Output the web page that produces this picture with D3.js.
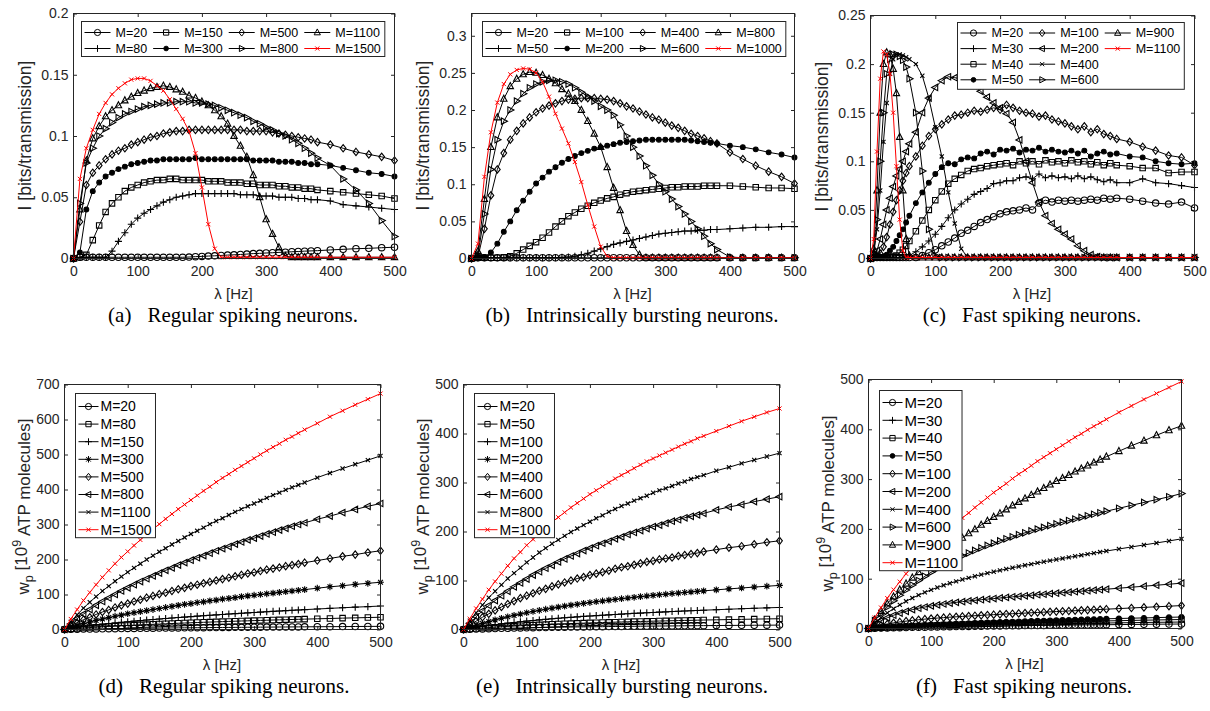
<!DOCTYPE html>
<html>
<head>
<meta charset="utf-8">
<script src="https://cdn.jsdelivr.net/npm/d3@7/dist/d3.min.js"></script>
<style>
body { margin: 0; background: #fff; }
svg text { font-family: "Liberation Sans", Arial, Helvetica, sans-serif; }
.caption { font-family: "Liberation Serif", "Times New Roman", serif; fill: #000; }
</style>
</head>
<body>
<svg id="fig" width="1210" height="711"></svg>
<script>
// ---- x grids (Hz) ----
var lambdaHz = [0,10,20,30,40,50,60,70,80,90,100,110,120,130,140,150,160,170,180,190,200,210,220,230,240,250,260,270,280,290,300,310,320,330,340,350,360,370,380,400,420,440,460,480,500];
var lambdaFast = [0,5,10,15,20,25,30,35,40,45,50,55,60,70,80,90,100,110,120,130,140,150,160,170,180,190,200,210,220,230,240,250,260,270,280,290,300,310,320,330,340,350,360,370,380,400,420,440,460,480,500];
var xTicks = [0, 100, 200, 300, 400, 500];

// ---- (a) regular spiking, information ----
var mA = [20, 80, 150, 300, 500, 800, 1100, 1500];
var markerA = ["o", "+", "s", ".", "d", ">", "^", "x"];
var yTicksA = [0, 0.05, 0.1, 0.15, 0.2];
var valuesA = [
  [0,0.001,0.001,0.001,0.001,0.001,0.001,0.001,0.001,0.001, 0.001,0.001,0.001,0.001,0.001,0.001,0.001,0.001,0.0012,0.0015, 0.0017,0.002,0.0022,0.0025,0.0028,0.003,0.0033,0.0036,0.004,0.0042, 0.0045,0.0047,0.005,0.0052,0.0055,0.0057,0.006,0.0062,0.0064, 0.007,0.0075,0.008,0.0083,0.0088,0.0092],
  [0,0.001,0.001,0.001,0.001,0.001,0.006,0.014,0.021,0.028, 0.033,0.037,0.04,0.043,0.046,0.048,0.05,0.051,0.052,0.053, 0.053,0.053,0.053,0.053,0.053,0.053,0.052,0.052,0.052,0.051, 0.051,0.051,0.05,0.05,0.05,0.049,0.049,0.048,0.048, 0.047,0.044,0.043,0.042,0.041,0.04],
  [0,0.001,0.003,0.015,0.027,0.038,0.045,0.05,0.055,0.058, 0.06,0.062,0.063,0.064,0.064,0.065,0.065,0.064,0.064,0.064, 0.064,0.063,0.063,0.063,0.062,0.062,0.062,0.061,0.061,0.06, 0.06,0.06,0.059,0.059,0.058,0.058,0.057,0.057,0.056, 0.055,0.054,0.053,0.052,0.051,0.049],
  [0,0.005,0.04,0.055,0.062,0.067,0.07,0.073,0.075,0.077, 0.078,0.079,0.08,0.08,0.081,0.081,0.081,0.081,0.081,0.082, 0.081,0.081,0.081,0.081,0.081,0.081,0.081,0.081,0.08,0.08, 0.08,0.08,0.079,0.079,0.079,0.078,0.078,0.077,0.077, 0.076,0.074,0.072,0.07,0.069,0.067],
  [0,0.03,0.06,0.07,0.076,0.081,0.085,0.088,0.09,0.093, 0.095,0.097,0.099,0.1,0.102,0.103,0.104,0.104,0.105,0.105, 0.105,0.105,0.105,0.105,0.105,0.105,0.105,0.104,0.104,0.104, 0.104,0.103,0.102,0.101,0.1,0.099,0.098,0.097,0.095, 0.093,0.09,0.087,0.085,0.083,0.08],
  [0,0.045,0.078,0.09,0.1,0.106,0.111,0.115,0.118,0.12, 0.122,0.124,0.125,0.126,0.127,0.127,0.128,0.128,0.128,0.127, 0.127,0.126,0.125,0.123,0.121,0.119,0.117,0.115,0.112,0.11, 0.107,0.105,0.102,0.1,0.097,0.094,0.09,0.086,0.082, 0.076,0.065,0.056,0.045,0.031,0.018],
  [0,0.04,0.08,0.098,0.108,0.116,0.121,0.125,0.129,0.132, 0.135,0.137,0.139,0.14,0.141,0.14,0.138,0.136,0.133,0.131, 0.128,0.125,0.121,0.116,0.11,0.1,0.092,0.083,0.068,0.05, 0.032,0.02,0.009,0.002,0.001,0.001,0.001,0.001,0.001, 0.001,0.001,0.001,0.001,0.001,0.001],
  [0,0.065,0.09,0.105,0.118,0.127,0.134,0.139,0.143,0.146, 0.147,0.147,0.145,0.141,0.137,0.13,0.122,0.114,0.104,0.086, 0.058,0.028,0.008,0.001,0.001,0.001,0.001,0.001,0.001,0.001, 0.001,0.001,0.001,0.001,0.001,0.001,0.001,0.001,0.001, 0.001,0.001,0.001,0.001,0.001,0.001]
];

// ---- (b) intrinsically bursting, information ----
var mB = [20, 50, 100, 200, 400, 600, 800, 1000];
var markerB = ["o", "+", "s", ".", "d", ">", "^", "x"];
var yTicksB = [0, 0.05, 0.1, 0.15, 0.2, 0.25, 0.3];
var valuesB = [
  [0,0.001,0.001,0.001,0.001,0.001,0.001,0.001,0.001,0.001, 0.001,0.001,0.001,0.001,0.001,0.001,0.001,0.001,0.001,0.001, 0.001,0.001,0.001,0.001,0.001,0.001,0.001,0.001,0.001,0.001, 0.001,0.001,0.001,0.001,0.001,0.001,0.001,0.001,0.001, 0.001,0.001,0.001,0.001,0.001,0.001],
  [0,0.001,0.001,0.001,0.001,0.001,0.001,0.001,0.001,0.001, 0.001,0.001,0.001,0.0012,0.0015,0.002,0.003,0.005,0.007,0.01, 0.013,0.016,0.019,0.021,0.023,0.025,0.027,0.029,0.031,0.033, 0.034,0.035,0.036,0.037,0.037,0.038,0.038,0.039,0.039, 0.04,0.041,0.042,0.042,0.043,0.043],
  [0,0.001,0.001,0.001,0.001,0.0015,0.003,0.007,0.012,0.017, 0.022,0.028,0.035,0.043,0.05,0.057,0.062,0.067,0.071,0.075, 0.078,0.081,0.083,0.086,0.088,0.09,0.091,0.092,0.093,0.094, 0.095,0.096,0.096,0.097,0.097,0.097,0.098,0.098,0.098, 0.098,0.097,0.096,0.095,0.095,0.094],
  [0,0.001,0.002,0.008,0.02,0.036,0.05,0.065,0.078,0.09, 0.101,0.109,0.117,0.123,0.129,0.134,0.138,0.142,0.145,0.148, 0.15,0.152,0.154,0.156,0.157,0.158,0.159,0.16,0.16,0.16, 0.16,0.16,0.16,0.16,0.159,0.158,0.157,0.156,0.155, 0.152,0.15,0.147,0.143,0.14,0.136],
  [0,0.002,0.04,0.085,0.12,0.142,0.16,0.172,0.182,0.19, 0.197,0.202,0.206,0.209,0.212,0.214,0.215,0.216,0.216,0.216, 0.215,0.214,0.212,0.209,0.205,0.202,0.198,0.194,0.19,0.187, 0.183,0.179,0.176,0.172,0.168,0.165,0.162,0.158,0.155, 0.143,0.134,0.125,0.117,0.11,0.101],
  [0,0.005,0.06,0.12,0.16,0.185,0.2,0.212,0.222,0.23, 0.235,0.238,0.24,0.24,0.238,0.235,0.23,0.224,0.218,0.212, 0.205,0.2,0.193,0.18,0.165,0.15,0.138,0.125,0.112,0.1, 0.09,0.08,0.07,0.06,0.05,0.04,0.03,0.02,0.012, 0.002,0.001,0.001,0.001,0.001,0.001],
  [0,0.01,0.08,0.15,0.19,0.215,0.232,0.242,0.248,0.251, 0.25,0.247,0.242,0.236,0.228,0.222,0.212,0.2,0.185,0.168, 0.15,0.123,0.095,0.065,0.037,0.018,0.005,0.001,0.001,0.001, 0.001,0.001,0.001,0.001,0.001,0.001,0.001,0.001,0.001, 0.001,0.001,0.001,0.001,0.001,0.001],
  [0,0.02,0.11,0.17,0.21,0.235,0.248,0.254,0.256,0.255, 0.25,0.238,0.218,0.195,0.175,0.155,0.13,0.103,0.072,0.043, 0.016,0.003,0.001,0.001,0.001,0.001,0.001,0.001,0.001,0.001, 0.001,0.001,0.001,0.001,0.001,0.001,0.001,0.001,0.001, 0.001,0.001,0.001,0.001,0.001,0.001]
];

// ---- (c) fast spiking, information (finer grid below 60 Hz) ----
var mC = [20, 30, 40, 50, 100, 200, 400, 600, 900, 1100];
var markerC = ["o", "+", "s", ".", "d", "<", "x", ">", "^", "x"];
var yTicksC = [0, 0.05, 0.1, 0.15, 0.2, 0.25];
var valuesC = [
  [0,0.001,0.001,0.001,0.001,0.001,0.001,0.001,0.001,0.001,0.001,0.001,0.001, 0.001,0.003,0.006,0.009,0.013,0.017,0.021,0.026,0.029,0.033, 0.037,0.04,0.043,0.046,0.048,0.049,0.05,0.052,0.05,0.057, 0.06,0.058,0.06,0.059,0.06,0.059,0.06,0.061,0.06,0.062,0.061,0.062, 0.061,0.059,0.057,0.056,0.058,0.052],
  [0,0.001,0.001,0.001,0.001,0.001,0.001,0.001,0.001,0.001,0.0015,0.002,0.003, 0.007,0.012,0.018,0.025,0.033,0.042,0.05,0.056,0.061,0.066, 0.069,0.072,0.077,0.078,0.08,0.08,0.083,0.084,0.082,0.087, 0.083,0.085,0.083,0.084,0.082,0.085,0.082,0.084,0.081,0.079,0.081,0.078, 0.078,0.082,0.078,0.077,0.075,0.073],
  [0,0.001,0.001,0.001,0.001,0.001,0.0015,0.002,0.003,0.006,0.009,0.013,0.018, 0.028,0.039,0.05,0.06,0.069,0.077,0.082,0.086,0.09,0.092, 0.093,0.095,0.096,0.097,0.098,0.096,0.1,0.098,0.1,0.097, 0.101,0.099,0.1,0.098,0.101,0.099,0.1,0.097,0.099,0.096,0.098,0.096, 0.095,0.093,0.093,0.088,0.089,0.089],
  [0,0.001,0.001,0.001,0.002,0.004,0.008,0.012,0.018,0.024,0.03,0.037,0.044, 0.057,0.068,0.078,0.087,0.094,0.098,0.097,0.102,0.104,0.103, 0.108,0.11,0.107,0.112,0.111,0.113,0.109,0.112,0.111,0.114, 0.11,0.112,0.11,0.109,0.111,0.108,0.111,0.105,0.108,0.11,0.107,0.108, 0.105,0.104,0.1,0.098,0.097,0.098],
  [0,0.001,0.002,0.005,0.012,0.022,0.035,0.048,0.06,0.07,0.08,0.088,0.095, 0.105,0.116,0.126,0.133,0.138,0.143,0.147,0.148,0.15,0.152, 0.151,0.153,0.155,0.153,0.158,0.155,0.152,0.15,0.149,0.146, 0.147,0.143,0.141,0.139,0.136,0.133,0.136,0.13,0.133,0.128,0.126,0.123, 0.12,0.115,0.111,0.106,0.104,0.096],
  [0,0.002,0.008,0.02,0.035,0.05,0.062,0.074,0.085,0.092,0.1,0.11,0.118, 0.13,0.15,0.165,0.176,0.183,0.187,0.186,0.185,0.183,0.178, 0.172,0.166,0.16,0.155,0.149,0.14,0.122,0.1,0.078,0.058, 0.044,0.036,0.03,0.025,0.02,0.013,0.008,0.004,0.002,0.001,0.001,0.001, 0.001,0.001,0.001,0.001,0.001,0.001],
  [0,0.005,0.03,0.07,0.12,0.16,0.19,0.205,0.21,0.21,0.209,0.207,0.205, 0.2,0.188,0.165,0.135,0.105,0.068,0.036,0.01,0.001,0.001, 0.001,0.001,0.001,0.001,0.001,0.001,0.001,0.001,0.001,0.001, 0.001,0.001,0.001,0.001,0.001,0.001,0.001,0.001,0.001,0.001,0.001,0.001, 0.001,0.001,0.001,0.001,0.001,0.001],
  [0,0.005,0.04,0.1,0.15,0.19,0.205,0.21,0.21,0.208,0.204,0.197,0.185, 0.15,0.09,0.03,0.003,0.001,0.001,0.001,0.001,0.001,0.001, 0.001,0.001,0.001,0.001,0.001,0.001,0.001,0.001,0.001,0.001, 0.001,0.001,0.001,0.001,0.001,0.001,0.001,0.001,0.001,0.001,0.001,0.001, 0.001,0.001,0.001,0.001,0.001,0.001],
  [0,0.01,0.07,0.15,0.2,0.212,0.21,0.195,0.17,0.125,0.07,0.02,0.003, 0.001,0.001,0.001,0.001,0.001,0.001,0.001,0.001,0.001,0.001, 0.001,0.001,0.001,0.001,0.001,0.001,0.001,0.001,0.001,0.001, 0.001,0.001,0.001,0.001,0.001,0.001,0.001,0.001,0.001,0.001,0.001,0.001, 0.001,0.001,0.001,0.001,0.001,0.001],
  [0,0.02,0.11,0.185,0.213,0.21,0.19,0.15,0.095,0.04,0.008,0.001,0.001, 0.001,0.001,0.001,0.001,0.001,0.001,0.001,0.001,0.001,0.001, 0.001,0.001,0.001,0.001,0.001,0.001,0.001,0.001,0.001,0.001, 0.001,0.001,0.001,0.001,0.001,0.001,0.001,0.001,0.001,0.001,0.001,0.001, 0.001,0.001,0.001,0.001,0.001,0.001]
];

// ---- (d) regular spiking, energy ----
var mD = [20, 80, 150, 300, 500, 800, 1100, 1500];
var markerD = ["o", "s", "+", "*", "d", "<", "x", "x"];
var yTicksD = [0, 100, 200, 300, 400, 500, 600, 700];
var valuesD = [
  [0,0.4,0.8,1.1,1.4,1.7,2.0,2.3,2.5,2.7, 3.0,3.2,3.4,3.6,3.8,4.0,4.2,4.4,4.6,4.8, 4.9,5.1,5.3,5.5,5.6,5.8,5.9,6.1,6.2,6.4, 6.5,6.7,6.8,7.0,7.1,7.2,7.4,7.5,7.6, 7.9,8.1,8.3,8.6,8.8,9],
  [0,1.6,3.0,4.3,5.5,6.7,7.7,8.8,9.7,10.7, 11.6,12.4,13.3,14.1,14.9,15.6,16.4,17.1,17.8,18.5, 19.2,19.9,20.6,21.2,21.8,22.5,23.1,23.7,24.3,24.8, 25.4,26.0,26.5,27.1,27.6,28.1,28.6,29.1,29.6, 30.6,31.5,32.5,33.3,34.2,35],
  [0,3.0,5.7,8.2,10.6,12.8,14.8,16.8,18.7,20.4, 22.2,23.8,25.4,27.0,28.5,30.0,31.4,32.8,34.2,35.5, 36.8,38.1,39.4,40.6,41.8,43.0,44.2,45.3,46.4,47.6, 48.6,49.7,50.8,51.8,52.8,53.8,54.8,55.8,56.7, 58.6,60.4,62.1,63.8,65.4,67],
  [0,6,12,17,21,26,30,34,38,41, 45,48,51,54,57,60,63,66,69,72, 74,77,79,82,84,87,89,91,94,96, 98,100,102,104,106,108,110,112,114, 118,122,125,129,132,135],
  [0,10,19,28,35,43,50,56,63,69, 74,80,85,91,96,101,105,110,115,119, 124,128,132,136,140,144,148,152,156,160, 163,167,171,174,177,181,184,187,191, 197,203,209,214,220,225],
  [0,16,31,44,57,69,80,90,100,110, 119,128,137,145,153,161,169,176,184,191, 198,205,211,218,225,231,237,244,250,256, 261,267,273,278,284,289,295,300,305, 315,324,334,343,352,360],
  [0,22,42,61,78,94,110,124,138,151, 164,176,188,200,211,222,232,243,253,263, 273,282,291,301,310,318,327,336,344,352, 360,368,376,384,391,399,406,413,420, 434,447,460,472,484,496],
  [0,30,57,83,106,128,149,169,188,206, 223,240,256,271,287,301,316,330,344,357, 370,383,396,408,421,433,444,456,467,478, 489,500,511,521,531,542,551,561,571, 589,608,625,642,658,674]
];

// ---- (e) intrinsically bursting, energy ----
var mE = [20, 50, 100, 200, 400, 600, 800, 1000];
var markerE = ["o", "s", "+", "*", "d", "<", "x", "x"];
var yTicksE = [0, 100, 200, 300, 400, 500];
var valuesE = [
  [0,0.4,0.9,1.2,1.6,2.0,2.3,2.6,2.9,3.2, 3.4,3.7,3.9,4.1,4.4,4.6,4.8,5.0,5.2,5.3, 5.5,5.7,5.8,6.0,6.1,6.3,6.4,6.6,6.7,6.8, 7.0,7.1,7.2,7.3,7.4,7.6,7.7,7.8,7.9, 8.1,8.3,8.5,8.7,8.8,9],
  [0,1.1,2.1,3.0,3.9,4.8,5.6,6.3,7.0,7.7, 8.4,9.0,9.6,10.1,10.7,11.2,11.7,12.1,12.6,13.0, 13.5,13.9,14.3,14.6,15.0,15.4,15.7,16.1,16.4,16.7, 17.0,17.3,17.6,17.9,18.2,18.5,18.7,19.0,19.3, 19.8,20.3,20.7,21.2,21.6,22],
  [0,2.2,4.3,6.2,8.1,9.8,11.4,13.0,14.4,15.8, 17.1,18.4,19.6,20.7,21.8,22.9,23.9,24.8,25.8,26.7, 27.5,28.4,29.2,29.9,30.7,31.4,32.2,32.9,33.5,34.2, 34.8,35.4,36.0,36.6,37.2,37.8,38.3,38.9,39.4, 40.4,41.4,42.4,43.3,44.2,45],
  [0,4.4,8.6,12.5,16.1,19.6,22.8,25.9,28.8,31.6, 34.2,36.8,39.2,41.4,43.6,45.7,47.7,49.7,51.5,53.3, 55.0,56.7,58.3,59.9,61.4,62.9,64.3,65.7,67.1,68.4, 69.6,70.9,72.1,73.3,74.4,75.6,76.7,77.8,78.8, 80.9,82.9,84.7,86.6,88.3,90],
  [0,9,17,25,32,39,46,52,58,64, 69,74,79,83,88,92,96,100,104,107, 111,114,117,120,124,127,129,132,135,138, 140,143,145,147,150,152,154,156,159, 163,167,170,174,178,181],
  [0,13,26,38,49,59,69,78,87,95, 103,111,118,125,131,138,144,150,155,161, 166,171,176,180,185,189,194,198,202,206, 210,213,217,221,224,228,231,234,237, 244,250,255,261,266,271],
  [0,18,34,50,65,78,91,104,115,126, 137,147,157,166,175,183,191,199,206,213, 220,227,233,240,246,252,257,263,268,273, 279,284,288,293,298,302,307,311,315, 324,331,339,346,353,360],
  [0,22,43,62,81,98,114,130,145,158, 172,184,196,208,219,229,239,249,258,267, 276,284,292,300,308,315,322,329,336,343, 349,355,361,367,373,379,384,390,395, 405,415,425,434,443,451]
];

// ---- (f) fast spiking, energy ----
var mF = [20, 30, 40, 50, 100, 200, 400, 600, 900, 1100];
var markerF = ["o", "+", "s", ".", "d", "<", "x", ">", "^", "x"];
var yTicksF = [0, 100, 200, 300, 400, 500];
var valuesF = [
  [0,0.4,0.8,1.1,1.4,1.7,2.0,2.3,2.5,2.7, 3.0,3.2,3.4,3.6,3.8,4.0,4.2,4.4,4.6,4.8, 4.9,5.1,5.3,5.5,5.6,5.8,5.9,6.1,6.2,6.4, 6.5,6.7,6.8,7.0,7.1,7.2,7.4,7.5,7.6, 7.9,8.1,8.3,8.6,8.8,9],
  [0,0.6,1.1,1.6,2.1,2.5,2.9,3.3,3.6,4.0, 4.3,4.6,4.9,5.2,5.5,5.8,6.1,6.4,6.6,6.9, 7.1,7.4,7.6,7.9,8.1,8.3,8.6,8.8,9.0,9.2, 9.4,9.6,9.9,10.1,10.3,10.4,10.6,10.8,11.0, 11.4,11.7,12.1,12.4,12.7,13],
  [0,0.8,1.5,2.2,2.8,3.4,4.0,4.5,5.0,5.5, 6.0,6.4,6.8,7.2,7.7,8.0,8.4,8.8,9.2,9.5, 9.9,10.2,10.6,10.9,11.2,11.6,11.9,12.2,12.5,12.8, 13.1,13.4,13.6,13.9,14.2,14.5,14.7,15.0,15.2, 15.7,16.2,16.7,17.1,17.6,18],
  [0,1.0,2.0,2.8,3.6,4.4,5.1,5.8,6.4,7.0, 7.6,8.2,8.7,9.3,9.8,10.3,10.8,11.3,11.7,12.2, 12.6,13.1,13.5,13.9,14.4,14.8,15.2,15.6,15.9,16.3, 16.7,17.1,17.4,17.8,18.1,18.5,18.8,19.1,19.5, 20.1,20.7,21.3,21.9,22.5,23],
  [0,3.5,6.5,9.1,11.3,13.2,14.8,16.3,17.6,18.8, 19.9,20.9,21.8,22.7,23.5,24.3,25.0,25.7,26.4,27.1, 27.8,28.4,29.1,29.7,30.3,30.9,31.6,32.2,32.8,33.4, 34.0,34.6,35.2,35.8,36.4,37.0,37.6,38.2,38.8, 40.0,41.2,42.4,43.6,44.8,46],
  [0,8.4,15.5,21.5,26.6,30.9,34.6,37.9,40.7,43.2, 45.4,47.4,49.2,50.9,52.5,53.9,55.3,56.6,57.8,59.0, 60.2,61.3,62.5,63.6,64.6,65.7,66.7,67.8,68.8,69.9, 70.9,71.9,72.9,73.9,74.9,75.9,76.9,77.9,78.9, 80.9,82.9,84.9,86.9,88.9,91],
  [0,11.5,21.9,31.3,39.8,47.5,54.6,61.1,67.0,72.5, 77.6,82.3,86.7,90.8,94.6,98.3,101.7,105.0,108.1,111.1, 114.0,116.7,119.4,122.0,124.5,126.9,129.3,131.7,134.0,136.3, 138.5,140.7,142.9,145.0,147.2,149.3,151.4,153.5,155.5, 159.7,163.7,167.8,171.8,175.8,180],
  [0,15.6,30.0,43.3,55.5,66.9,77.4,87.2,96.3,104.8, 112.8,120.2,127.2,133.8,140.0,145.9,151.5,156.8,161.9,166.7, 171.4,175.8,180.1,184.2,188.3,192.1,195.9,199.6,203.1,206.6, 210.1,213.4,216.7,219.9,223.1,226.3,229.4,232.4,235.5, 241.4,247.3,253.1,258.8,264.5,271],
  [0,18,35,50,64,78,90,102,113,124, 135,145,154,164,173,182,191,199,208,216, 224,231,239,247,254,261,268,275,282,289, 296,302,308,315,321,327,333,339,345, 356,367,377,388,398,407],
  [0,22,42,61,78,94,110,124,138,151, 164,176,188,200,211,222,232,243,253,263, 273,282,291,301,310,318,327,336,344,352, 360,368,376,384,391,399,406,413,420, 434,447,460,472,484,496]
];

var captionLabels = ["(a)", "(b)", "(c)", "(d)", "(e)", "(f)"];
var captionTexts = ["Regular spiking neurons.", "Intrinsically bursting neurons.", "Fast spiking neurons.",
                    "Regular spiking neurons.", "Intrinsically bursting neurons.", "Fast spiking neurons."];

// ---- layout ----
var AXIS = "#262626";
var panels = [
  {lam: lambdaHz,   m: mA, mk: markerA, v: valuesA, yMax: 0.2,  yTicks: yTicksA, x0: 73,  x1: 394,  y0: 13,  y1: 258, top: true,
   leg: {rows: 2, anchor: "tr", dx: 10, dy: 8, first: 11, rowH: 16, last: 8, line: 26, font: 12.5}, capX: 233, capY: 322},
  {lam: lambdaHz,   m: mB, mk: markerB, v: valuesB, yMax: 0.33, yTicks: yTicksB, x0: 471, x1: 794,  y0: 13,  y1: 258, top: true,
   leg: {rows: 2, anchor: "tr", dx: 9, dy: 8, first: 11, rowH: 16, last: 8, line: 26, font: 12.5}, capX: 632, capY: 322},
  {lam: lambdaFast, m: mC, mk: markerC, v: valuesC, yMax: 0.25, yTicks: yTicksC, x0: 870, x1: 1194, y0: 15,  y1: 258, top: true,
   leg: {rows: 4, anchor: "tr", dx: 10, dy: 7, first: 10.5, rowH: 15.6, last: 9.5, line: 26, font: 12.5}, capX: 1032, capY: 322},
  {lam: lambdaHz,   m: mD, mk: markerD, v: valuesD, yMax: 700,  yTicks: yTicksD, x0: 64,  x1: 380,  y0: 384, y1: 629, top: false,
   leg: {rows: 8, anchor: "tl", dx: 11, dy: 9, first: 13, rowH: 17.6, last: 8, line: 20, font: 14}, capX: 224, capY: 693},
  {lam: lambdaHz,   m: mE, mk: markerE, v: valuesE, yMax: 500,  yTicks: yTicksE, x0: 463, x1: 779,  y0: 384, y1: 629, top: false,
   leg: {rows: 8, anchor: "tl", dx: 11, dy: 9, first: 13, rowH: 17.6, last: 8, line: 20, font: 14}, capX: 622, capY: 693},
  {lam: lambdaHz,   m: mF, mk: markerF, v: valuesF, yMax: 500,  yTicks: yTicksF, x0: 868, x1: 1181, y0: 379, y1: 628, top: false,
   leg: {rows: 10, anchor: "tl", dx: 11, dy: 11, first: 12, rowH: 17.8, last: 8, line: 20, font: 15}, capX: 1024, capY: 693}
];

var svg = d3.select("#fig");
svg.append("rect").attr("width", 1210).attr("height", 711).attr("fill", "#fff");

function markerPath(t, s) {
  var h = s / 2;
  if (t === "o" || t === ".") {
    var r = t === "." ? h * 0.75 : h;
    return "M" + (-r) + ",0A" + r + "," + r + " 0 1,0 " + r + ",0A" + r + "," + r + " 0 1,0 " + (-r) + ",0Z";
  }
  if (t === "s") { var q = h * 0.85; return "M" + (-q) + "," + (-q) + "H" + q + "V" + q + "H" + (-q) + "Z"; }
  if (t === "d") return "M0," + (-h * 1.15) + "L" + (h * 0.9) + ",0L0," + (h * 1.15) + "L" + (-h * 0.9) + ",0Z";
  if (t === "^") return "M0," + (-h * 1.15) + "L" + h + "," + (h * 0.75) + "L" + (-h) + "," + (h * 0.75) + "Z";
  if (t === ">") return "M" + (h * 1.15) + ",0L" + (-h * 0.75) + "," + (-h) + "L" + (-h * 0.75) + "," + h + "Z";
  if (t === "<") return "M" + (-h * 1.15) + ",0L" + (h * 0.75) + "," + (-h) + "L" + (h * 0.75) + "," + h + "Z";
  if (t === "+") { var p = h * 1.1; return "M" + (-p) + ",0H" + p + "M0," + (-p) + "V" + p; }
  if (t === "x") { var k = h * 0.75; return "M" + (-k) + "," + (-k) + "L" + k + "," + k + "M" + (-k) + "," + k + "L" + k + "," + (-k); }
  if (t === "*") {
    var a = h * 1.05, b = h * 0.75;
    return "M" + (-a) + ",0H" + a + "M0," + (-a) + "V" + a +
      "M" + (-b) + "," + (-b) + "L" + b + "," + b + "M" + (-b) + "," + b + "L" + b + "," + (-b);
  }
  return "";
}

function seriesColor(p, i) {
  return i === p.m.length - 1 ? "#ff0000" : "#000";
}

function drawPanel(p, idx) {
  var g = svg.append("g");
  var x = d3.scaleLinear().domain([0, 500]).range([p.x0 + 0.5, p.x1 + 0.5]);
  var y = d3.scaleLinear().domain([0, p.yMax]).range([p.y1 + 0.5, p.y0 + 0.5]);
  var tickFont = 14;
  var tl = 3.5;

  // axes (ticks inside, mirrored on top/right)
  var ax = g.append("g").style("color", AXIS);
  ax.append("g").attr("transform", "translate(0," + (p.y1 + 0.5) + ")")
    .call(d3.axisBottom(x).tickValues(xTicks).tickSize(-tl).tickSizeOuter(0).tickPadding(8))
    .attr("font-size", tickFont).attr("font-family", null);
  ax.append("g").attr("transform", "translate(0," + (p.y0 + 0.5) + ")")
    .call(d3.axisTop(x).tickValues(xTicks).tickSize(-tl).tickSizeOuter(0).tickFormat(""));
  ax.append("g").attr("transform", "translate(" + (p.x0 + 0.5) + ",0)")
    .call(d3.axisLeft(y).tickValues(p.yTicks).tickSize(-tl).tickSizeOuter(0).tickPadding(5).tickFormat(d3.format("~g")))
    .attr("font-size", tickFont).attr("font-family", null);
  ax.append("g").attr("transform", "translate(" + (p.x1 + 0.5) + ",0)")
    .call(d3.axisRight(y).tickValues(p.yTicks).tickSize(-tl).tickSizeOuter(0).tickFormat(""));
  ax.selectAll(".domain").remove();
  ax.selectAll("text").attr("fill", AXIS);

  // series
  var line = d3.line().x(function(d) { return x(d[0]); }).y(function(d) { return y(d[1]); });
  p.v.forEach(function(vals, i) {
    var pts = vals.map(function(v, j) { return [p.lam[j], v]; });
    var col = seriesColor(p, i);
    var sg = g.append("g");
    sg.append("path").datum(pts).attr("d", line)
      .attr("fill", "none").attr("stroke", col).attr("stroke-width", 1);
    var mp = markerPath(p.mk[i], p.mk[i] === "x" ? 5.5 : 6.4);
    sg.selectAll("path.mk").data(pts).enter().append("path")
      .attr("class", "mk")
      .attr("transform", function(d) { return "translate(" + x(d[0]) + "," + y(d[1]) + ")"; })
      .attr("d", mp)
      .attr("fill", p.mk[i] === "." ? col : "none")
      .attr("stroke", col).attr("stroke-width", col === "#000" ? 1.1 : 1);
  });

  // box
  g.append("rect").attr("x", p.x0 + 0.5).attr("y", p.y0 + 0.5)
    .attr("width", p.x1 - p.x0).attr("height", p.y1 - p.y0)
    .attr("fill", "none").attr("stroke", AXIS).attr("stroke-width", 1);

  // axis labels
  var cx = (p.x0 + p.x1) / 2, cy = (p.y0 + p.y1) / 2;
  g.append("text").attr("x", cx).attr("y", p.y1 + 41)
    .attr("text-anchor", "middle").attr("font-size", 15).attr("fill", AXIS)
    .text("\u03bb [Hz]");
  var yl = g.append("text")
    .attr("transform", "translate(" + (p.x0 - (p.top ? 48 : 41)) + "," + cy + ") rotate(-90)")
    .attr("text-anchor", "middle").attr("dy", "0.35em").attr("font-size", p.top ? 17.5 : 17).attr("fill", AXIS);
  if (p.top) {
    yl.text("I [bits/transmission]");
  } else {
    yl.append("tspan").text("w");
    yl.append("tspan").attr("dy", "0.35em").attr("font-size", 12.5).text("p");
    yl.append("tspan").attr("dy", "-0.35em").text(" [10");
    yl.append("tspan").attr("dy", "-0.5em").attr("font-size", 12.5).text("9");
    yl.append("tspan").attr("dy", "0.5em").text(" ATP molecules]");
  }

  drawLegend(g, p);

  // caption
  var cap = g.append("text").attr("class", "caption").attr("x", p.capX).attr("y", p.capY)
    .attr("text-anchor", "middle").attr("font-size", 21);
  cap.append("tspan").text(captionLabels[idx]);
  cap.append("tspan").attr("dx", 16).text(captionTexts[idx]);
}

function drawLegend(g, p) {
  var L = p.leg, n = p.m.length, rows = L.rows;
  var lg = g.append("g");
  var box = lg.append("rect");
  var items = p.m.map(function(m, i) { return {i: i, col: Math.floor(i / rows), row: i % rows}; });
  var cols = Math.ceil(n / rows);
  var texts = lg.selectAll("text").data(items).enter().append("text")
    .attr("font-size", L.font).attr("fill", "#000").attr("dy", "0.35em")
    .text(function(d) { return "M=" + p.m[d.i]; });
  var colW = [];
  texts.each(function(d) { colW[d.col] = Math.max(colW[d.col] || 0, this.getComputedTextLength()); });
  var padL = 3, gapT = p.top ? 5 : 2, colGap = 6, padR = 4;
  var colX = [], cxp = padL;
  for (var c = 0; c < cols; c++) { colX[c] = cxp; cxp += L.line + gapT + colW[c] + colGap; }
  var boxW = cxp - colGap + padR;
  var boxH = L.first + (rows - 1) * L.rowH + L.last;
  var bx = L.anchor === "tr" ? p.x1 - L.dx - boxW : p.x0 + L.dx;
  var by = p.y0 + L.dy;
  bx = Math.round(bx) + 0.5; by = Math.round(by) + 0.5;
  box.attr("x", bx).attr("y", by).attr("width", boxW).attr("height", boxH)
    .attr("fill", "#fff").attr("stroke", AXIS).attr("stroke-width", 1);
  texts.attr("x", function(d) { return bx + colX[d.col] + L.line + gapT; })
    .attr("y", function(d) { return by + L.first + d.row * L.rowH; });
  items.forEach(function(d) {
    var col = seriesColor(p, d.i);
    var lx = bx + colX[d.col], ly = by + L.first + d.row * L.rowH;
    lg.append("line").attr("x1", lx).attr("x2", lx + L.line).attr("y1", ly).attr("y2", ly)
      .attr("stroke", col).attr("stroke-width", 1);
    lg.append("path").attr("transform", "translate(" + (lx + L.line / 2) + "," + ly + ")")
      .attr("d", markerPath(p.mk[d.i], p.mk[d.i] === "x" ? 5.5 : 6.2))
      .attr("fill", p.mk[d.i] === "." ? col : "none")
      .attr("stroke", col).attr("stroke-width", 1);
  });
}

panels.forEach(drawPanel);
</script>
</body>
</html>
